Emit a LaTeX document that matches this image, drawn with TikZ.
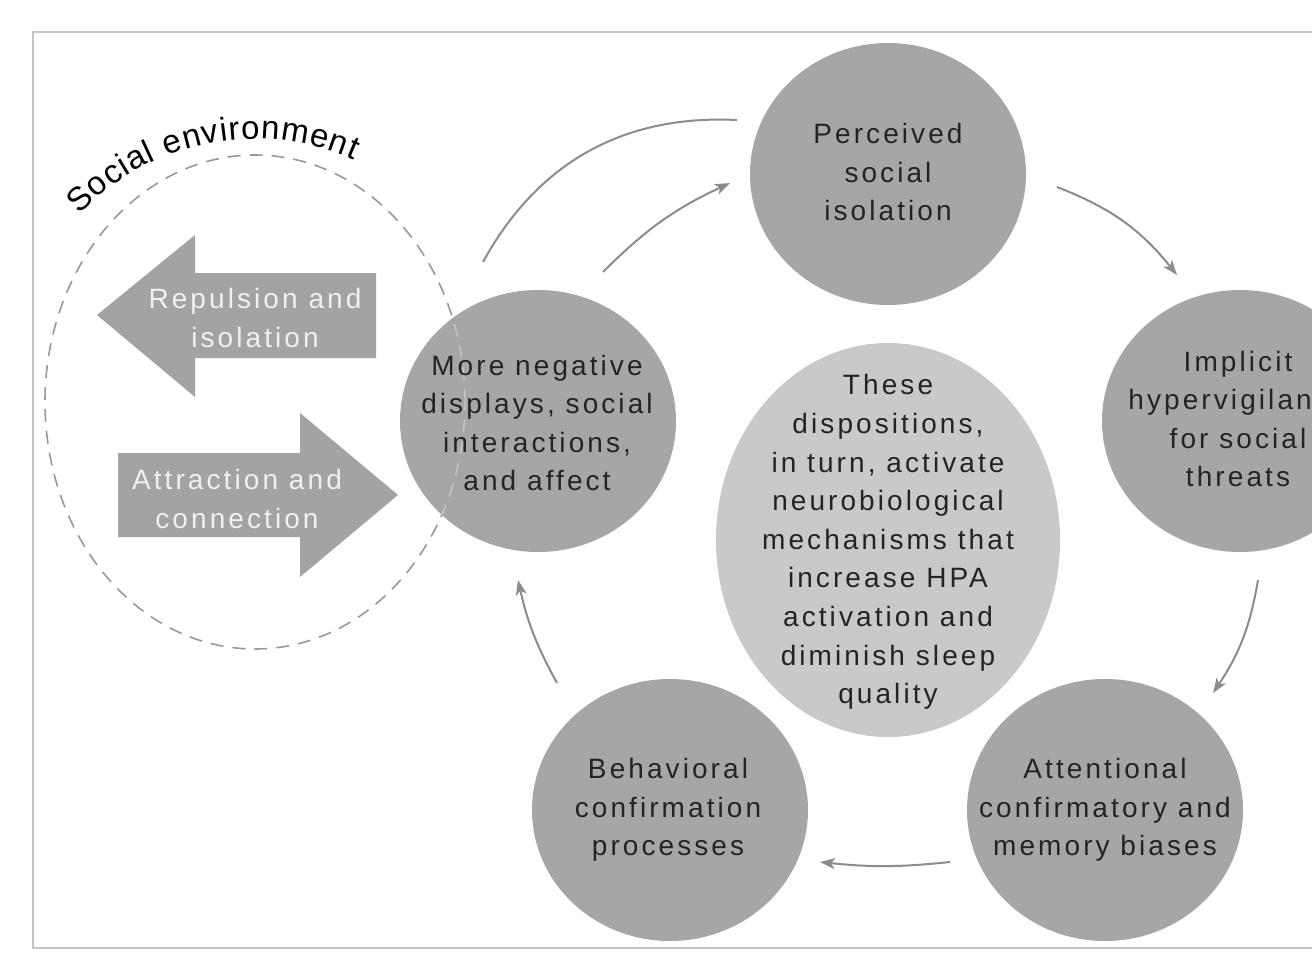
\documentclass[tikz,border=0pt]{standalone}
\usepackage{fontspec}
\setmainfont{Liberation Sans}[LetterSpace=11]
\newfontfamily\arcfont{Liberation Sans}
\usetikzlibrary{shapes.geometric, arrows.meta, decorations.text, calc}
\definecolor{bubc}{HTML}{A6A6A6}
\definecolor{cenc}{HTML}{C9C9C9}
\definecolor{txtc}{HTML}{242424}
\definecolor{conc}{HTML}{8C8C8C}
\definecolor{frmc}{HTML}{C4C4C4}
\definecolor{blkc}{HTML}{A3A3A3}
\definecolor{dshc}{HTML}{999999}
\begin{document}
\begin{tikzpicture}[x=1pt,y=1pt,
 bub/.style={ellipse, fill=bubc, minimum width=276pt, minimum height=262pt, inner sep=0pt},
 lbl/.style={align=center, text=txtc, font=\fontsize{28}{38.6}\selectfont, inner sep=0pt},
 wlbl/.style={align=center, text=white!94!black, font=\fontsize{28}{38.6}\selectfont, inner sep=0pt},
 conn/.style={draw=conc, line width=2pt},
 arr/.style={conn, -{Stealth[length=15pt,width=11pt,inset=4pt]}},
 blk/.style={fill=blkc},
 dsh/.style={draw=dshc, line width=1.6pt, dash pattern=on 13pt off 9pt}
 ]
\path[use as bounding box] (0,0) rectangle (1312,-960);
\clip (0,0) rectangle (1312,-960);
\fill[white] (0,0) rectangle (1312,-960);
% frame
\draw[frmc, line width=2pt] (33,-32) rectangle (1340,-948);
% social environment
\draw[dsh] (255,-402) ellipse [x radius=210, y radius=247];
\path[decorate, decoration={text along path, text align=fit to path, text color=black,
  text={|\arcfont\fontsize{33}{33}\selectfont|Social environment}}]
  (255,-381) ++(136.5:242) arc[start angle=136.5, end angle=66, radius=242];
% block arrows
\path[blk] (97,-315) -- (195,-235) -- (195,-273) -- (376,-273) -- (376,-358) -- (195,-358) -- (195,-397) -- cycle;
\node[wlbl] (rep) at (255,-318) {Repulsion and\\isolation};
\path[blk] (398,-495) -- (300,-413) -- (300,-453) -- (118,-453) -- (118,-537) -- (300,-537) -- (300,-577) -- cycle;
\node[wlbl] (attr) at (237,-499) {Attraction and\\connection};
% bubbles
\node[bub] (per) at (888,-174) {};
\node[bub] (imp) at (1240,-421) {};
\node[bub] (att) at (1105,-810) {};
\node[bub] (beh) at (670,-810) {};
\node[bub] (neg) at (538,-421) {};
\node[ellipse, fill=cenc, minimum width=344pt, minimum height=394pt, inner sep=0pt] (mid) at (888,-540) {};
% faint dashes over the negative bubble
\begin{scope}
\clip (538,-421) ellipse [x radius=138, y radius=131];
\draw[draw=white!78!black, line width=1.4pt, dash pattern=on 13pt off 9pt] (255,-402) ellipse [x radius=210, y radius=247];
\end{scope}
% labels
\node[lbl] (perT) at (888,-172) {Perceived\\social\\isolation};
\node[lbl] (negT) at (537,-423) {More negative\\displays, social\\interactions,\\and affect};
\node[lbl] (impT) at (1238,-419) {Implicit\\hypervigilance\\for social\\threats};
\node[lbl] (midT) at (888,-542) {These\\dispositions,\\in turn, activate\\neurobiological\\mechanisms that\\increase HPA\\activation and\\diminish sleep\\quality};
\node[lbl] (attT) at (1105,-810) {Attentional\\confirmatory and\\memory biases};
\node[lbl] (behT) at (668,-810) {Behavioral\\confirmation\\processes};
% connector end points
\coordinate (a1s) at ($(neg.center)+(-55,159)$);
\coordinate (a1e) at ($(per.center)+(-151,54)$);
\coordinate (a2s) at ($(neg.center)+(65,149)$);
\coordinate (a2e) at ($(per.center)+(-158,-9)$);
\coordinate (a3s) at ($(per.center)+(169,-13)$);
\coordinate (a3e) at ($(imp.center)+(-63,146)$);
\coordinate (a4s) at ($(imp.center)+(18,-159)$);
\coordinate (a4e) at ($(att.center)+(108,117)$);
\coordinate (a5s) at ($(att.center)+(-155,-52)$);
\coordinate (a5e) at ($(beh.center)+(150,-52)$);
\coordinate (a6s) at ($(beh.center)+(-113,127)$);
\coordinate (a6e) at ($(neg.center)+(-20,-159)$);
% connectors
\draw[conn] (a1s) to[bend left=32] (a1e);
\draw[arr] (a2s) to[bend left=10] (a2e);
\draw[arr] (a3s) to[bend left=15] (a3e);
\draw[arr] (a4s) to[bend left=12] (a4e);
\draw[arr] (a5s) to[bend left=6] (a5e);
\draw[arr] (a6s) to[bend left=8] (a6e);
\end{tikzpicture}
\end{document}
